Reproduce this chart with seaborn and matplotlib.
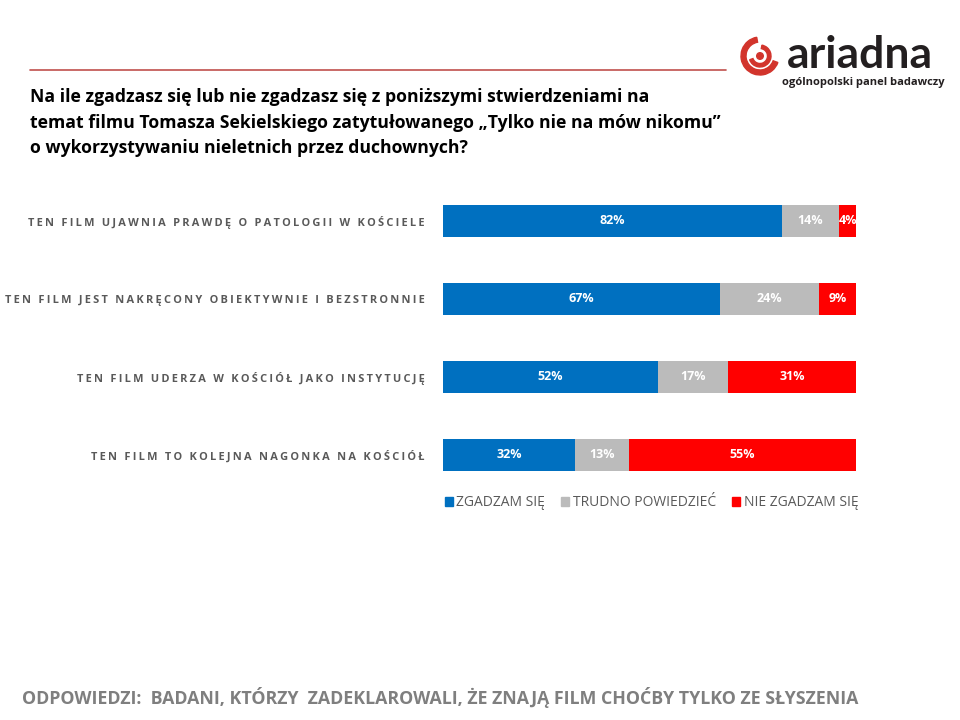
import matplotlib
matplotlib.use("Agg")
import matplotlib.pyplot as plt
import seaborn as sns
import pandas as pd
import numpy as np
from matplotlib.patches import Wedge, Rectangle

categories = [
    "TEN FILM UJAWNIA PRAWDĘ O PATOLOGII W KOŚCIELE",
    "TEN FILM JEST NAKRĘCONY OBIEKTYWNIE I BEZSTRONNIE",
    "TEN FILM UDERZA W KOŚCIÓŁ JAKO INSTYTUCJĘ",
    "TEN FILM TO KOLEJNA NAGONKA NA KOŚCIÓŁ",
]
agree = [82, 67, 52, 32]
unsure = [14, 24, 17, 13]
disagree = [4, 9, 31, 55]
series_names = ["ZGADZAM SIĘ", "TRUDNO POWIEDZIEĆ", "NIE ZGADZAM SIĘ"]
colors = ["#0070C0", "#BBBBBB", "#FF0000"]

title = ("Na ile zgadzasz się lub nie zgadzasz się z poniższymi stwierdzeniami na\n"
         "temat filmu Tomasza Sekielskiego zatytułowanego „Tylko nie na mów nikomu”\n"
         "o wykorzystywaniu nieletnich przez duchownych?")
footer = "ODPOWIEDZI:  BADANI, KTÓRZY  ZADEKLAROWALI, ŻE ZNAJĄ FILM CHOĆBY TYLKO ZE SŁYSZENIA"

sns.set_theme(style="white")
plt.rcParams['font.family'] = ['Open Sans', 'DejaVu Sans']

df = pd.DataFrame({"cat": categories, "agree": agree, "unsure": unsure, "disagree": disagree})
df["c2"] = df["agree"] + df["unsure"]
df["c3"] = df["c2"] + df["disagree"]

fig = plt.figure(figsize=(9.6, 7.2), dpi=100)
ax = fig.add_axes([443/960, 1-494/720, 413/960, 312/720])

bw = 0.41
sns.barplot(data=df, y="cat", x="c3", color=colors[2], ax=ax, width=bw, saturation=1, orient="h", linewidth=0)
sns.barplot(data=df, y="cat", x="c2", color=colors[1], ax=ax, width=bw, saturation=1, orient="h", linewidth=0)
sns.barplot(data=df, y="cat", x="agree", color=colors[0], ax=ax, width=bw, saturation=1, orient="h", linewidth=0)

ax.set_xlim(0, 100)
ax.set_ylim(3.5, -0.5)
ax.set_xlabel("")
ax.set_ylabel("")
ax.set_xticks([])
for s in ax.spines.values():
    s.set_visible(False)
ax.tick_params(axis="y", length=0, pad=13)
ax.set_yticks(range(len(categories)))
spaced = ["\u2009".join(list(c)) for c in categories]
ax.set_yticklabels(spaced, fontsize=7.9, fontweight="bold", color="#595959")

for i in range(len(categories)):
    starts = [0, agree[i], agree[i] + unsure[i]]
    vals = [agree[i], unsure[i], disagree[i]]
    for st, v in zip(starts, vals):
        ax.text(st + v / 2, i, f"{v}%", ha="center", va="center", color="white",
                fontsize=9, fontweight="bold")

# legend
handles = [Rectangle((0, 0), 1, 1, color=c) for c in colors]
leg = fig.legend(handles, series_names, loc="center left", bbox_to_anchor=(432/960, 1-503/720),
                 ncol=3, frameon=False, fontsize=10, handlelength=0.6, handleheight=0.6,
                 handletextpad=0.25, columnspacing=1.15, labelcolor="#595959")

# header line
fig.add_artist(plt.Line2D([30/960, 726/960], [1-70/720, 1-70/720], color="#C0504D", lw=1.2))

# title
fig.text(30/960, 1-88/720, title, ha="left", va="top", fontsize=12.7, fontweight="bold",
         color="black", linespacing=1.55)

# logo
lax = fig.add_axes([735/960, 1-90/720, 215/960, 60/720])
lax.set_xlim(0, 215)
lax.set_ylim(0, 60)
lax.set_aspect("equal")
lax.axis("off")
cx, cy = 25, 34
lax.add_patch(Wedge((cx, cy), 19, 100, 340, width=5, color="#D2342C"))
lax.add_patch(Wedge((cx, cy), 11, 200, 80, width=3.5, color="#D2342C"))
lax.add_patch(plt.Circle((cx, cy), 3.3, color="#D2342C"))
lax.text(52, 22, "ariadna", fontsize=32, fontweight="bold", color="#231F20",
         va="baseline", ha="left", family=["Lato", "DejaVu Sans"])
lax.text(210, 8, "ogólnopolski panel badawczy", fontsize=8, color="#231F20",
         va="center", ha="right", fontweight="bold")

# footer
fig.text(22/960, 1-697/720, footer, ha="left", va="center", fontsize=12.8,
         fontweight="bold", color="#7F7F7F", family=["Liberation Sans Narrow", "Open Sans", "DejaVu Sans"])

fig.savefig("out.png", dpi=100)
